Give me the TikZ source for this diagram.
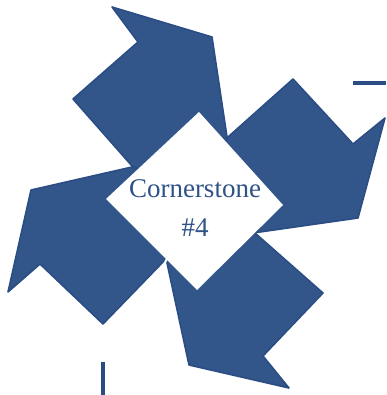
\documentclass[tikz,border=0pt]{standalone}
\usepackage{fontspec}
\setmainfont{Liberation Serif}
\usetikzlibrary{positioning}
\definecolor{arrowblue}{RGB}{50,86,138}
\definecolor{edgeblue}{RGB}{42,78,132}
\definecolor{textblue}{RGB}{47,82,135}

\begin{document}
\begin{tikzpicture}[x=1pt,y=-1pt,
  arr/.style={fill=arrowblue,draw=edgeblue,line width=1.6pt,line join=round},
  stone/.style={fill=white},
  lab/.style={font=\fontsize{27}{39}\selectfont,text=textblue,inner sep=0pt,anchor=base},
  rule/.style={draw=edgeblue,line width=3.5pt}]
\useasboundingbox (0,0) rectangle (386,395);
\coordinate (O) at (196,201);
\draw[arr] (112,7) -- (212,37) -- (227,137) -- (O) -- (132,166) -- (73,99) -- (138,42) -- cycle;
\draw[arr] (385,118) -- (358,218) -- (253,233) -- (O) -- (228,137) -- (293,79) -- (353,144) -- cycle;
\draw[arr] (289,388) -- (189,365) -- (167,263) -- (O) -- (255,233) -- (323,293) -- (263,356) -- cycle;
\draw[arr] (8,292) -- (31,190) -- (132,167) -- (O) -- (163,262) -- (103,324) -- (40,264) -- cycle;
\fill[stone] (199,112) -- (283,205) -- (197,290) -- (106,199) -- cycle;
\node[lab] (name) at (195,197) {Cornerstone};
\node[lab] (num) at (195,236) {\#4};
\coordinate (tr1) at (353,83);
\coordinate (tr2) at (386,83);
\coordinate (bl1) at (103,362);
\coordinate (bl2) at (103,395);
\draw[rule] (tr1) -- (tr2);
\draw[rule] (bl1) -- (bl2);
\end{tikzpicture}
\end{document}
